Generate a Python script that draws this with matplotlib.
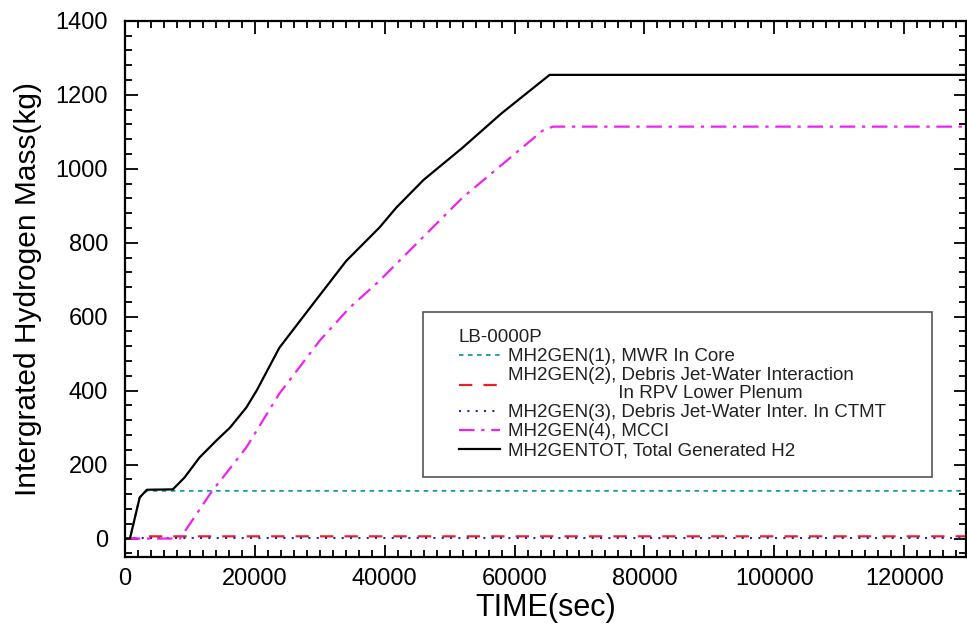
import matplotlib.pyplot as plt
from matplotlib.ticker import MultipleLocator
from matplotlib.lines import Line2D
from matplotlib.patches import Rectangle

plt.rcParams['font.family'] = ['Liberation Sans', 'DejaVu Sans']

# MH2GENTOT, total generated H2
t_tot = [0, 800, 2300, 3400, 7400, 9200, 11500, 14100, 16200, 18700, 20300, 23800,
         29000, 34100, 39200, 41800, 46000, 52000, 58000, 65400, 129500]
h_tot = [0, 0, 111, 132, 133, 165, 219, 265, 300, 354, 400, 516,
         635, 751, 841, 895, 970, 1057, 1150, 1254, 1254]
# MH2GEN(1), MWR in core
t_core = [0, 800, 2300, 3400, 129500]
h_core = [0, 0, 111, 129, 129]
# MH2GEN(2), debris jet-water interaction in RPV lower plenum
t_rpv = [0, 2000, 3500, 129500]
h_rpv = [0, 0, 6, 6]
# MH2GEN(3), debris jet-water interaction in CTMT
t_ctmt = [0, 129500]
h_ctmt = [1, 1]
# MH2GEN(4), MCCI
t_mcci = [0, 8500, 13500, 15100, 18700, 23800, 30000, 34600, 39200, 43800, 52000,
          64300, 65900, 129500]
h_mcci = [0, 0, 130, 165, 246, 392, 535, 624, 697, 778, 922,
          1103, 1114, 1114]

fig = plt.figure(figsize=(9.67, 6.33), dpi=100)
ax = fig.add_axes([0.129, 0.120, 0.870, 0.847])

styles = [
    dict(color='#1a9a96', ls=(0, (2.5, 2.5)), lw=1.3),
    dict(color='#e8202a', ls=(0, (6, 5)), lw=1.6),
    dict(color='#2a2aa8', ls=(0, (1, 3)), lw=1.5),
    dict(color='#ee22ee', ls=(0, (7, 3, 1.5, 3)), lw=1.6),
    dict(color='black', lw=1.6),
]
ax.plot(t_core, h_core, **styles[0])
ax.plot(t_rpv, h_rpv, **styles[1])
ax.plot(t_ctmt, h_ctmt, **styles[2])
ax.plot(t_mcci, h_mcci, **styles[3])
ax.plot(t_tot, h_tot, **styles[4])

ax.set_xlim(0, 129500)
ax.set_ylim(-50, 1400)
ax.xaxis.set_major_locator(MultipleLocator(20000))
ax.xaxis.set_minor_locator(MultipleLocator(2000))
ax.yaxis.set_major_locator(MultipleLocator(200))
ax.yaxis.set_minor_locator(MultipleLocator(40))
ax.tick_params(which='both', direction='in', top=True, right=True, width=1.3,
               labelsize=17, colors='black')
ax.tick_params(which='major', length=9)
ax.tick_params(which='minor', length=5)
ax.tick_params(axis='x', pad=8)
ax.tick_params(axis='y', pad=12)
for sp in ax.spines.values():
    sp.set_linewidth(1.6)

ax.set_xlabel('TIME(sec)', fontsize=22, labelpad=2)
ax.set_ylabel('Intergrated Hydrogen Mass(kg)', fontsize=21.5, labelpad=10)

handles = [Line2D([], [], **s) for s in styles]
labels = [
    'MH2GEN(1), MWR In Core',
    'MH2GEN(2), Debris Jet-Water Interaction\n' + ' ' * 21 + 'In RPV Lower Plenum',
    'MH2GEN(3), Debris Jet-Water Inter. In CTMT',
    'MH2GEN(4), MCCI',
    'MH2GENTOT, Total Generated H2',
]
# legend frame drawn as a box, legend content placed inside it
ax.add_patch(Rectangle((0.354, 0.149), 0.606, 0.308, transform=ax.transAxes,
                       facecolor='white', edgecolor='#555555', lw=1.2, zorder=4))
leg = ax.legend(handles, labels, title='LB-0000P', loc='upper left',
                bbox_to_anchor=(0.397, 0.425), fontsize=13.5, title_fontsize=13.5,
                alignment='left', frameon=False, borderpad=0, borderaxespad=0,
                handlelength=2.2, handletextpad=0.45, labelspacing=0.1)
leg.set_zorder(5)
for txt in leg.get_texts():
    txt.set_color('#222222')
    txt.set_linespacing(1.1)
leg.get_title().set_color('#222222')

fig.savefig('out.png', dpi=100)
